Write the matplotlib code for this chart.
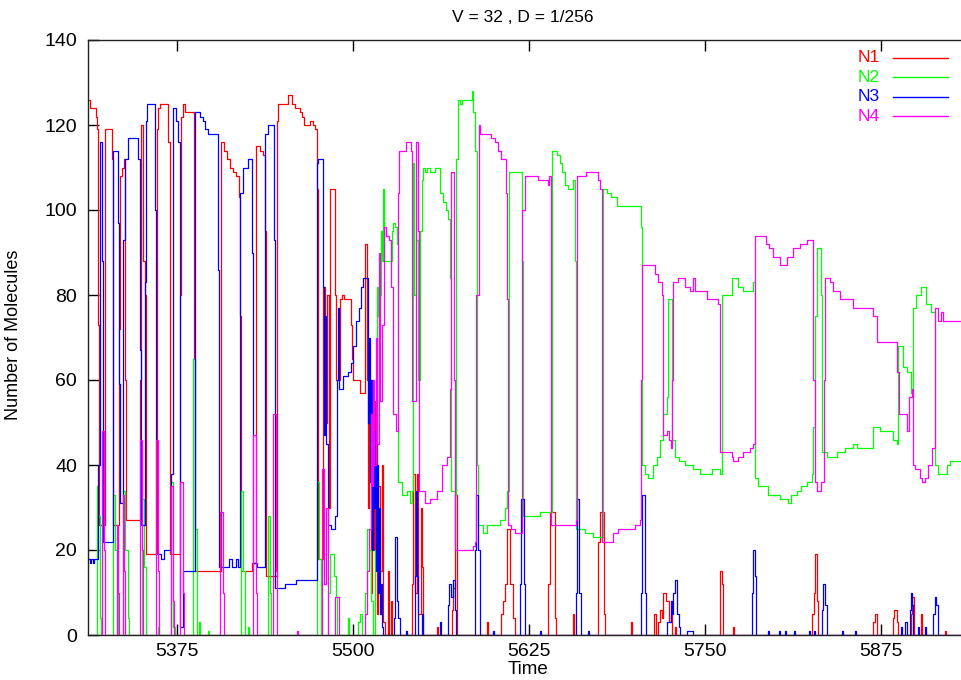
import numpy as np
import matplotlib
matplotlib.use("Agg")
import matplotlib.pyplot as plt
from matplotlib.lines import Line2D

plt.rcParams['font.family'] = ['Liberation Sans', 'DejaVu Sans']
plt.rcParams['font.size'] = 12.5

title = "V = 32 , D = 1/256"
x_ticks = [5375, 5500, 5625, 5750, 5875]
y_ticks = [0, 20, 40, 60, 80, 100, 120, 140]
t_start, t_end = 5312.0, 5934.9

names = ['N1', 'N2', 'N3', 'N4']
colors = ['#ff0000', '#00ff00', '#0000ff', '#ff00ff']

# (time, count) change points, held until the next point
n1 = [(5312.0, 126), (5313.4, 124), (5317.7, 122), (5318.4, 119), (5319.1, 73), (5319.8, 26),
      (5324.1, 119), (5329.0, 112), (5329.8, 26), (5334.0, 72), (5334.7, 108), (5336.1, 110),
      (5337.6, 112), (5338.3, 60), (5339.0, 27), (5348.9, 60), (5349.6, 120), (5351.1, 88),
      (5352.5, 80), (5353.2, 19), (5361.0, 119), (5361.7, 124), (5363.1, 125), (5368.8, 116),
      (5370.2, 19), (5377.3, 80), (5378.0, 122), (5379.5, 125), (5380.9, 123), (5387.3, 65),
      (5388.0, 15), (5406.4, 116), (5408.6, 114), (5410.7, 112), (5412.8, 110), (5415.0, 109),
      (5417.1, 108), (5419.2, 103), (5419.9, 75), (5420.6, 15), (5428.4, 17), (5431.3, 115),
      (5434.1, 114), (5436.3, 113), (5437.7, 95), (5438.4, 14), (5446.2, 121), (5446.9, 125),
      (5454.0, 127), (5456.8, 125), (5459.0, 124), (5462.5, 123), (5464.0, 122), (5465.4, 120),
      (5469.6, 121), (5471.8, 120), (5473.2, 119), (5474.6, 105), (5475.3, 18), (5478.9, 82),
      (5480.3, 50), (5481.7, 80), (5483.1, 30), (5483.8, 105), (5487.4, 80), (5488.1, 60),
      (5490.9, 79), (5492.3, 80), (5493.8, 79), (5498.7, 73), (5499.4, 65), (5500.2, 60),
      (5505.1, 57), (5508.7, 92), (5510.1, 60), (5510.8, 30), (5511.5, 60), (5512.9, 10),
      (5513.6, 45), (5515.1, 20), (5515.8, 55), (5517.2, 5), (5517.9, 35), (5519.3, 15),
      (5520.7, 40), (5521.5, 3), (5522.9, 0), (5525.0, 15), (5525.7, 0), (5527.1, 8),
      (5527.8, 0), (5542.0, 12), (5542.8, 38), (5544.2, 10), (5545.6, 38), (5546.3, 5),
      (5548.4, 30), (5549.1, 16), (5549.9, 0), (5559.8, 2), (5560.5, 0), (5570.4, 6),
      (5571.2, 11), (5572.6, 33), (5574.0, 0), (5595.3, 3), (5596.0, 0), (5605.2, 5),
      (5606.7, 8), (5608.1, 12), (5609.5, 25), (5611.6, 12), (5613.8, 4), (5615.2, 0),
      (5638.6, 12), (5640.0, 29), (5643.6, 4), (5644.3, 0), (5656.3, 5), (5657.0, 0),
      (5674.1, 22), (5675.5, 29), (5678.4, 5), (5679.1, 0), (5697.5, 3), (5698.2, 0),
      (5713.9, 5), (5715.3, 0), (5716.7, 3), (5718.1, 6), (5719.5, 4), (5720.3, 10),
      (5722.4, 8), (5724.5, 3), (5725.9, 5), (5726.6, 0), (5728.8, 2), (5729.5, 0),
      (5760.7, 15), (5762.1, 12), (5762.9, 0), (5770.0, 2), (5770.7, 0), (5826.0, 5),
      (5827.5, 10), (5828.2, 19), (5829.6, 8), (5830.3, 0), (5869.4, 3), (5870.8, 5),
      (5872.2, 0), (5883.6, 4), (5884.3, 6), (5886.4, 3), (5887.1, 0), (5896.3, 5),
      (5897.0, 9), (5898.4, 0), (5903.4, 5), (5904.1, 0), (5920.5, 1), (5921.2, 0),
      (5935.0, 0)]

n2 = [(5312.0, 0), (5318.4, 35), (5319.1, 28), (5320.5, 4), (5321.2, 0), (5329.8, 33),
      (5331.2, 20), (5333.3, 0), (5336.9, 34), (5338.3, 20), (5340.4, 4), (5341.1, 0),
      (5350.3, 32), (5351.8, 16), (5353.2, 0), (5361.7, 2), (5362.4, 0), (5370.9, 36),
      (5372.4, 2), (5373.8, 0), (5386.6, 65), (5388.0, 25), (5389.4, 0), (5390.8, 3),
      (5391.5, 0), (5397.2, 1), (5397.9, 0), (5420.6, 34), (5422.1, 15), (5423.5, 0),
      (5425.6, 2), (5426.3, 0), (5439.8, 28), (5441.2, 10), (5442.0, 0), (5474.6, 36),
      (5476.0, 18), (5477.4, 0), (5482.4, 10), (5483.8, 19), (5486.6, 14), (5488.1, 9),
      (5488.8, 0), (5496.6, 4), (5497.3, 0), (5503.7, 3), (5505.1, 5), (5506.5, 0),
      (5508.7, 10), (5510.1, 25), (5511.5, 20), (5512.9, 8), (5514.4, 0), (5515.8, 20),
      (5516.5, 45), (5517.2, 82), (5517.9, 75), (5518.6, 65), (5519.3, 80), (5520.0, 95),
      (5520.7, 88), (5521.5, 105), (5522.2, 88), (5525.7, 88), (5527.8, 95), (5528.6, 97),
      (5530.0, 96), (5531.4, 92), (5532.1, 36), (5534.9, 33), (5538.5, 34), (5540.6, 31),
      (5542.0, 34), (5542.8, 111), (5543.5, 80), (5544.9, 93), (5546.3, 60), (5547.7, 95),
      (5549.1, 107), (5549.9, 110), (5551.3, 109), (5552.7, 110), (5554.8, 109), (5558.4, 110),
      (5561.9, 104), (5564.1, 102), (5566.2, 100), (5567.6, 98), (5569.0, 84), (5569.7, 34),
      (5572.6, 33), (5573.3, 112), (5574.7, 126), (5576.1, 125), (5577.5, 126), (5584.6, 128),
      (5585.4, 123), (5586.8, 114), (5588.2, 40), (5588.9, 26), (5592.5, 24), (5595.3, 26),
      (5604.5, 27), (5608.1, 30), (5609.5, 34), (5610.9, 109), (5620.1, 88), (5620.9, 28),
      (5632.9, 29), (5641.4, 114), (5645.0, 113), (5647.1, 111), (5648.5, 109), (5650.7, 106),
      (5652.8, 105), (5656.3, 107), (5657.8, 88), (5658.5, 25), (5664.9, 24), (5670.6, 23),
      (5677.7, 105), (5680.5, 104), (5683.3, 103), (5687.6, 101), (5699.0, 101), (5704.6, 96),
      (5705.3, 40), (5707.5, 38), (5709.6, 37), (5713.2, 40), (5716.0, 42), (5718.1, 46),
      (5720.3, 52), (5723.1, 56), (5723.8, 79), (5726.6, 46), (5728.8, 42), (5731.6, 41),
      (5735.9, 40), (5741.6, 39), (5746.5, 38), (5755.0, 39), (5760.7, 38), (5762.1, 80),
      (5769.2, 84), (5773.5, 82), (5777.1, 81), (5784.2, 83), (5785.6, 37), (5787.7, 35),
      (5791.3, 35), (5794.8, 33), (5803.3, 32), (5809.0, 31), (5811.0, 33), (5815.4, 34),
      (5818.2, 35), (5822.5, 36), (5826.0, 38), (5826.8, 49), (5828.2, 75), (5829.6, 91),
      (5832.4, 80), (5833.1, 43), (5836.7, 42), (5843.8, 43), (5849.5, 44), (5855.2, 45),
      (5858.0, 44), (5869.4, 49), (5874.3, 48), (5883.6, 46), (5886.4, 45), (5887.1, 68),
      (5890.7, 63), (5893.5, 62), (5896.3, 57), (5897.8, 77), (5899.9, 80), (5903.4, 82),
      (5907.0, 78), (5911.0, 76), (5913.4, 40), (5915.5, 38), (5921.9, 40), (5924.0, 41),
      (5935.0, 41)]

n3 = [(5312.0, 18), (5313.4, 17), (5314.1, 18), (5315.5, 17), (5316.2, 18), (5319.1, 40),
      (5320.5, 116), (5322.0, 88), (5322.7, 22), (5329.8, 114), (5333.3, 97), (5334.0, 59),
      (5334.7, 31), (5336.9, 93), (5338.3, 112), (5340.4, 117), (5347.5, 112), (5348.9, 67),
      (5349.6, 26), (5352.5, 83), (5353.2, 121), (5354.0, 125), (5359.6, 100), (5360.0, 19),
      (5364.0, 18), (5366.0, 20), (5370.9, 38), (5372.4, 124), (5374.5, 121), (5375.9, 116),
      (5377.3, 2), (5379.5, 15), (5387.3, 15), (5388.0, 123), (5391.5, 122), (5393.6, 121),
      (5395.0, 119), (5397.2, 118), (5404.3, 86), (5405.0, 16), (5409.3, 16), (5412.0, 18),
      (5414.3, 16), (5417.1, 18), (5418.5, 16), (5419.9, 104), (5422.1, 110), (5425.6, 112),
      (5428.4, 90), (5429.2, 17), (5432.0, 16), (5437.7, 118), (5439.8, 120), (5444.1, 93),
      (5444.8, 11), (5451.9, 12), (5456.1, 12), (5459.7, 13), (5466.8, 13), (5474.6, 111),
      (5475.3, 112), (5478.9, 82), (5479.6, 47), (5480.3, 75), (5481.0, 45), (5482.4, 26),
      (5484.5, 25), (5487.4, 28), (5488.8, 60), (5489.5, 77), (5490.2, 58), (5493.1, 61),
      (5496.6, 62), (5498.7, 64), (5500.2, 68), (5502.3, 74), (5504.4, 77), (5505.8, 82),
      (5507.3, 84), (5510.8, 50), (5511.5, 70), (5512.2, 36), (5512.9, 60), (5513.6, 20),
      (5514.4, 55), (5515.1, 30), (5515.8, 48), (5516.5, 15), (5517.2, 40), (5517.9, 10),
      (5518.6, 30), (5519.3, 5), (5520.0, 12), (5520.7, 2), (5521.5, 0), (5529.3, 4),
      (5530.0, 23), (5531.4, 8), (5532.1, 4), (5533.5, 0), (5537.8, 1), (5538.5, 0),
      (5544.2, 14), (5544.9, 34), (5545.6, 14), (5546.3, 0), (5549.1, 5), (5549.9, 0),
      (5561.9, 3), (5562.6, 0), (5567.6, 7), (5568.3, 12), (5569.7, 9), (5571.2, 13),
      (5572.6, 6), (5573.3, 0), (5586.8, 20), (5587.5, 33), (5588.9, 20), (5590.3, 0),
      (5599.6, 1), (5600.3, 0), (5618.7, 12), (5619.4, 32), (5621.6, 12), (5622.3, 0),
      (5632.9, 1), (5633.6, 0), (5658.5, 10), (5659.2, 32), (5660.6, 10), (5662.0, 0),
      (5667.0, 1), (5667.7, 0), (5704.6, 10), (5705.3, 33), (5707.5, 10), (5708.2, 0),
      (5723.1, 3), (5725.9, 8), (5726.6, 5), (5727.4, 10), (5728.8, 13), (5730.2, 5),
      (5731.6, 2), (5732.3, 0), (5737.3, 1), (5741.6, 0), (5783.4, 10), (5784.2, 20),
      (5785.6, 14), (5786.3, 0), (5794.8, 1), (5795.5, 0), (5802.6, 1), (5803.3, 0),
      (5806.9, 1), (5807.6, 0), (5813.3, 1), (5814.0, 0), (5823.9, 1), (5824.6, 0),
      (5827.5, 1), (5828.2, 0), (5833.1, 6), (5833.9, 12), (5835.3, 7), (5836.7, 0),
      (5847.3, 1), (5848.0, 0), (5856.6, 1), (5857.3, 0), (5889.3, 2), (5890.0, 0),
      (5892.1, 3), (5893.5, 0), (5895.6, 6), (5896.3, 10), (5897.0, 7), (5897.8, 0),
      (5901.3, 2), (5902.0, 0), (5906.3, 2), (5907.0, 0), (5912.0, 5), (5913.4, 9),
      (5914.1, 7), (5915.5, 0), (5935.0, 0)]

n4 = [(5312.0, 0), (5321.9, 48), (5323.4, 20), (5324.1, 0), (5332.6, 26), (5333.3, 10),
      (5334.0, 0), (5336.9, 33), (5337.6, 15), (5338.3, 0), (5348.9, 46), (5350.3, 20),
      (5351.1, 0), (5360.3, 46), (5361.7, 15), (5362.4, 0), (5370.9, 35), (5372.4, 8),
      (5373.1, 0), (5377.3, 36), (5379.5, 10), (5380.2, 0), (5405.7, 29), (5407.9, 10),
      (5408.6, 0), (5429.2, 47), (5431.3, 10), (5432.0, 0), (5443.4, 52), (5445.5, 15),
      (5446.2, 0), (5460.4, 1), (5461.1, 0), (5478.1, 39), (5479.6, 12), (5481.0, 30),
      (5482.4, 0), (5487.4, 9), (5490.2, 0), (5508.7, 5), (5510.1, 15), (5511.5, 25),
      (5512.9, 52), (5513.6, 35), (5514.4, 60), (5515.1, 40), (5516.5, 70), (5517.2, 45),
      (5518.6, 90), (5519.3, 55), (5520.7, 73), (5522.2, 96), (5523.6, 94), (5525.7, 93),
      (5527.1, 82), (5528.6, 52), (5530.7, 48), (5532.1, 104), (5532.8, 114), (5537.8, 116),
      (5541.3, 114), (5542.0, 55), (5544.9, 116), (5546.3, 95), (5547.0, 34), (5551.3, 31),
      (5554.8, 32), (5559.8, 34), (5563.3, 40), (5566.9, 42), (5569.0, 58), (5569.7, 109),
      (5571.9, 60), (5572.6, 20), (5581.8, 20), (5585.4, 21), (5586.8, 22), (5587.5, 80),
      (5589.6, 120), (5590.3, 118), (5596.0, 118), (5598.1, 117), (5601.0, 116), (5603.1, 114),
      (5605.2, 112), (5608.8, 104), (5609.5, 79), (5610.2, 26), (5612.3, 25), (5615.2, 24),
      (5620.1, 100), (5622.3, 108), (5631.5, 107), (5638.6, 106), (5639.3, 108), (5640.7, 26),
      (5645.7, 26), (5658.5, 27), (5659.2, 108), (5665.6, 109), (5672.0, 109), (5674.1, 107),
      (5675.5, 105), (5677.0, 22), (5684.8, 24), (5688.3, 25), (5700.4, 26), (5703.9, 27),
      (5704.6, 60), (5705.3, 87), (5713.9, 87), (5714.6, 85), (5716.7, 83), (5719.5, 80),
      (5720.3, 47), (5723.1, 48), (5724.5, 46), (5725.9, 44), (5726.6, 60), (5727.4, 83),
      (5730.9, 84), (5735.9, 82), (5739.4, 81), (5741.6, 84), (5743.0, 81), (5751.5, 79),
      (5759.3, 78), (5760.7, 43), (5769.2, 42), (5770.0, 41), (5773.5, 42), (5777.1, 43),
      (5782.0, 44), (5784.2, 45), (5785.6, 94), (5793.4, 92), (5795.5, 91), (5798.4, 89),
      (5803.3, 87), (5808.3, 89), (5812.6, 91), (5817.5, 92), (5822.5, 93), (5826.8, 60),
      (5828.2, 36), (5829.6, 34), (5832.4, 36), (5834.6, 60), (5835.3, 84), (5838.8, 83),
      (5841.0, 81), (5845.9, 79), (5855.2, 77), (5869.4, 75), (5872.2, 69), (5886.4, 62),
      (5887.8, 52), (5893.5, 48), (5894.9, 56), (5897.0, 58), (5897.8, 40), (5899.2, 39),
      (5902.7, 37), (5904.1, 36), (5906.3, 37), (5908.4, 40), (5911.3, 44), (5913.4, 77),
      (5915.5, 74), (5917.6, 76), (5919.0, 74), (5935.0, 74)]

W, H = 961, 680
fig = plt.figure(figsize=(W / 100, H / 100), dpi=100)
ax = fig.add_axes([88 / W, 45 / H, 877 / W, 595 / H])

for data, c in zip([n1, n2, n3, n4], colors):
    t, v = np.array(data).T
    ax.plot(t, v, drawstyle='steps-post', color=c, lw=0.9)

ax.set_xlim(t_start, t_end)
ax.set_ylim(0, 140)
ax.set_xticks(x_ticks)
ax.set_yticks(y_ticks)
ax.tick_params(direction='in', length=8, width=1, top=True, right=False, labelsize=14)
ax.tick_params(axis='y', pad=8)
ax.tick_params(axis='x', pad=6)
for s in ax.spines.values():
    s.set_linewidth(1)
    s.set_color('#222222')

# legend, gnuplot style: label first, then a short sample line
for i, (name, c) in enumerate(zip(names, colors)):
    y = 1 - (58 + 19.4 * i) / H
    fig.text(880 / W, y, name, ha='right', va='center', color=c)
    fig.add_artist(Line2D([893 / W, 948 / W], [y, y], color=c, lw=1))

fig.text(523 / W, 1 - 17 / H, title, ha='center', va='center')
fig.text(528 / W, 1 - 670 / H, 'Time', ha='center', va='center', fontsize=13.5)
fig.text(14 / W, 1 - 335 / H, 'Number of Molecules', rotation=90, ha='center', va='center',
         fontsize=13)

fig.savefig('out.png', dpi=100)
